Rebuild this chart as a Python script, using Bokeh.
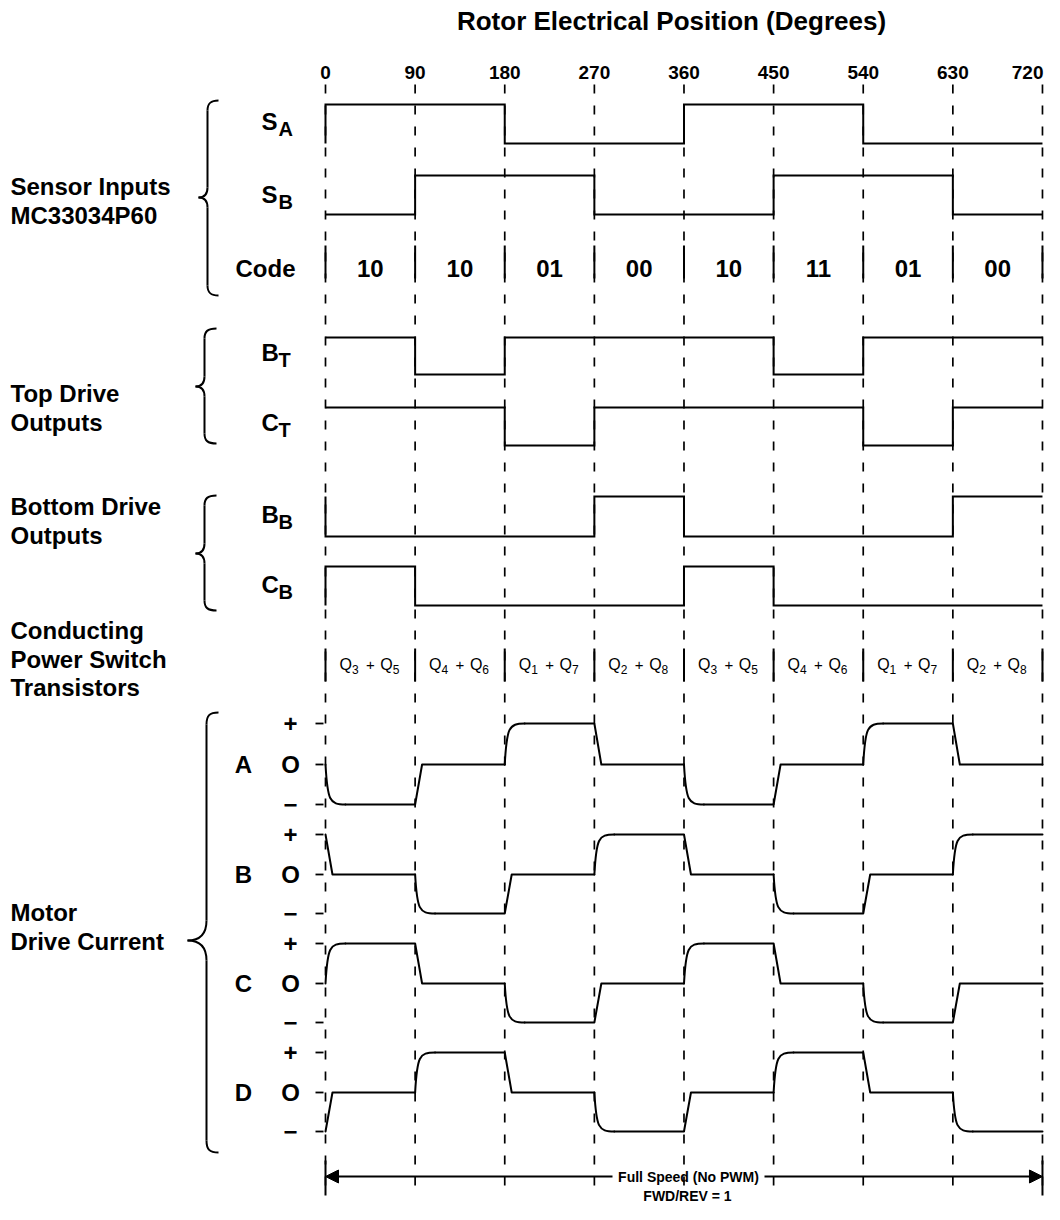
from bokeh.plotting import figure
from bokeh.models import Range1d, ColumnDataSource, Arrow, NormalHead
from bokeh.core.properties import value
from bokeh.embed import file_html
from bokeh.resources import INLINE

# ---------------- data ----------------
boundaries = [0, 90, 180, 270, 360, 450, 540, 630, 720]
tick_labels = ["0", "90", "180", "270", "360", "450", "540", "630", "720"]
codes = ["10", "10", "01", "00", "10", "11", "01", "00"]

s_a = [1, 1, 0, 0, 1, 1, 0, 0]
s_b = [0, 1, 1, 0, 0, 1, 1, 0]
b_t = [1, 0, 1, 1, 1, 0, 1, 1]
c_t = [1, 1, 0, 1, 1, 1, 0, 1]
b_b = [0, 0, 0, 1, 0, 0, 0, 1]
c_b = [1, 0, 0, 0, 1, 0, 0, 0]

q_first = ["3", "4", "1", "2", "3", "4", "1", "2"]
q_second = ["5", "6", "7", "8", "5", "6", "7", "8"]

motor_a = [-1, 0, 1, 0, -1, 0, 1, 0]
motor_b = [0, -1, 0, 1, 0, -1, 0, 1]
motor_c = [1, 0, -1, 0, 1, 0, -1, 0]
motor_d = [0, 1, 0, -1, 0, 1, 0, -1]

# ---------------- layout / style ----------------
FONT = value("Liberation Sans")
X0 = 325      # pixel of 0 degrees
K = 0.9958    # pixels per degree
W, H = 1044, 1204


def dx(px):
    return (px - X0) / K


p = figure(width=W, height=H,
           x_range=Range1d(dx(0), dx(W)), y_range=Range1d(H, 0),
           x_axis_type=None, y_axis_type=None,
           output_backend="svg", toolbar_location=None,
           min_border=0, outline_line_color=None)
p.grid.visible = False
p.background_fill_color = "white"
p.border_fill_color = "white"


def txt(x, y, s, size, align="left", baseline="middle", bold=True):
    p.text(x=[x], y=[y], text=[s], text_font=FONT,
           text_font_size=f"{size}px",
           text_font_style="bold" if bold else "normal",
           text_align=align, text_baseline=baseline, text_color="black")


mids = [(boundaries[i] + boundaries[i + 1]) / 2 for i in range(8)]

# title and degree labels
txt(dx(671), 20, "Rotor Electrical Position (Degrees)", 26, align="center")
p.text(x=boundaries[:-1], y=[72] * 8, text=tick_labels[:-1], text_font=FONT,
       text_font_size="19px", text_font_style="bold",
       text_align="center", text_baseline="middle")
txt(dx(1043), 72, tick_labels[-1], 19, align="right")

# dashed guide lines
p.segment(x0=boundaries, y0=[84] * 9, x1=boundaries, y1=[1196] * 9,
          line_color="black", line_width=1.7, line_dash="9 12")
# solid separators for code row and transistor row
p.segment(x0=boundaries, y0=[245] * 9, x1=boundaries, y1=[278] * 9,
          line_color="black", line_width=2)
p.segment(x0=boundaries, y0=[648] * 9, x1=boundaries, y1=[681] * 9,
          line_color="black", line_width=2)

# ---------------- digital signals ----------------
def digital(levels, hi, lo):
    ymap = {1: hi, 0: lo}
    xs, ys = [], []
    prev = levels[-1]
    for i, lv in enumerate(levels):
        b = boundaries[i]
        if lv != prev:
            xs += [b, b]
            ys += [ymap[prev], ymap[lv]]
        else:
            xs.append(b)
            ys.append(ymap[lv])
        prev = lv
    xs.append(boundaries[-1])
    ys.append(ymap[prev])
    p.line(xs, ys, line_color="black", line_width=2, line_join="miter")


rows = [
    (s_a, 104, 143, "S", "A", 121),
    (s_b, 175, 214, "S", "B", 194),
    (b_t, 337, 374, "B", "T", 352),
    (c_t, 407, 445, "C", "T", 422),
    (b_b, 496, 536, "B", "B", 514),
    (c_b, 566, 605, "C", "B", 584),
]
for lv, hi, lo, main, sub, ly in rows:
    digital(lv, hi, lo)
    txt(dx(261), ly, main, 24)
    txt(dx(278), ly + 7, sub, 20)

# code row
txt(dx(295), 268, "Code", 24, align="right")
p.text(x=mids, y=[268] * 8, text=codes, text_font=FONT,
       text_font_size="24px", text_font_style="bold",
       text_align="center", text_baseline="middle")

# transistor row
for c, a, b in zip(mids, q_first, q_second):
    txt(c - 31, 664, "Q", 16, bold=False)
    txt(c - 18.5, 669, a, 12, bold=False)
    txt(c, 664, "+", 15, align="center", bold=False)
    txt(c + 10, 664, "Q", 16, bold=False)
    txt(c + 22.5, 669, b, 12, bold=False)

# ---------------- motor currents ----------------
RAMP = 7
CURVE = 20


def analog(levels, plus_y, zero_y, minus_y):
    ymap = {1: plus_y, 0: zero_y, -1: minus_y}
    lines_x, lines_y = [], []
    bz = dict(x0=[], y0=[], x1=[], y1=[], cx0=[], cy0=[], cx1=[], cy1=[])
    px_, py_ = [], []
    prev = levels[-1]
    for i, lv in enumerate(levels):
        b = boundaries[i]
        yp, yn = ymap[prev], ymap[lv]
        if lv == prev:
            px_.append(b)
            py_.append(yn)
        elif lv == 0:
            px_ += [b, b + RAMP]
            py_ += [yp, yn]
        else:
            px_.append(b)
            py_.append(yp)
            lines_x.append(px_)
            lines_y.append(py_)
            bz["x0"].append(b)
            bz["y0"].append(yp)
            bz["x1"].append(b + CURVE)
            bz["y1"].append(yn)
            bz["cx0"].append(b + 2)
            bz["cy0"].append(yp + 0.9 * (yn - yp))
            bz["cx1"].append(b + 4)
            bz["cy1"].append(yn)
            px_, py_ = [b + CURVE], [yn]
        prev = lv
    px_.append(boundaries[-1])
    py_.append(ymap[prev])
    lines_x.append(px_)
    lines_y.append(py_)
    keep = [(a, b) for a, b in zip(lines_x, lines_y) if len(a) > 1]
    p.multi_line([k[0] for k in keep], [k[1] for k in keep],
                 line_color="black", line_width=2, line_join="round",
                 line_cap="round")
    p.bezier(source=ColumnDataSource(bz), x0="x0", y0="y0", x1="x1", y1="y1",
             cx0="cx0", cy0="cy0", cx1="cx1", cy1="cy1",
             line_color="black", line_width=2, line_cap="round")


motor_rows = [
    (motor_a, "A", 723, 764, 804),
    (motor_b, "B", 834, 874, 913),
    (motor_c, "C", 943, 983, 1022),
    (motor_d, "D", 1052, 1092, 1131),
]
for lv, name, yp, y0, ym in motor_rows:
    analog(lv, yp, y0, ym)
    txt(dx(243), y0, name, 24, align="center")
    txt(dx(290), yp, "+", 24, align="center")
    txt(dx(290), y0, "O", 24, align="center")
    txt(dx(290), ym, "\u2212", 24, align="center")
    p.segment(x0=[dx(315)] * 3, y0=[yp, y0, ym], x1=[dx(323)] * 3,
              y1=[yp, y0, ym], line_color="black", line_width=1.8)

# ---------------- group labels ----------------
for y, s in [(186, "Sensor Inputs"), (215, "MC33034P60"),
             (393, "Top Drive"), (422, "Outputs"),
             (506, "Bottom Drive"), (535, "Outputs"),
             (630, "Conducting"), (659, "Power Switch"), (687, "Transistors"),
             (912, "Motor"), (941, "Drive Current")]:
    txt(dx(10), y, s, 24)

# ---------------- braces ----------------
def brace(x_end, x_vert, x_tip, top, bot, tip, r_end, r_tip):
    segs = dict(x0=[], y0=[], x1=[], y1=[], cx0=[], cy0=[], cx1=[], cy1=[])

    def add(a, c0, c1, b):
        segs["x0"].append(dx(a[0])); segs["y0"].append(a[1])
        segs["cx0"].append(dx(c0[0])); segs["cy0"].append(c0[1])
        segs["cx1"].append(dx(c1[0])); segs["cy1"].append(c1[1])
        segs["x1"].append(dx(b[0])); segs["y1"].append(b[1])

    w = x_vert - x_tip
    add((x_end, top), (x_vert + 3, top), (x_vert, top + 3), (x_vert, top + r_end))
    add((x_vert, tip - r_tip), (x_vert, tip - r_tip * 0.3), (x_vert - w * 0.4, tip), (x_tip, tip))
    add((x_tip, tip), (x_vert - w * 0.4, tip), (x_vert, tip + r_tip * 0.3), (x_vert, tip + r_tip))
    add((x_vert, bot - r_end), (x_vert, bot - 3), (x_vert + 3, bot), (x_end, bot))
    p.bezier(source=ColumnDataSource(segs), x0="x0", y0="y0", x1="x1", y1="y1",
             cx0="cx0", cy0="cy0", cx1="cx1", cy1="cy1",
             line_color="black", line_width=2)
    p.segment(x0=[dx(x_vert)] * 2, y0=[top + r_end, tip + r_tip],
              x1=[dx(x_vert)] * 2, y1=[tip - r_tip, bot - r_end],
              line_color="black", line_width=2)


brace(218, 207, 198, 100, 295, 197, 10, 10)
brace(216, 204, 195, 328, 443, 386, 10, 10)
brace(216, 204, 195, 495, 610, 553, 10, 10)
brace(218, 206, 187, 712, 1152, 940, 12, 20)

# ---------------- bottom arrow ----------------
p.segment(x0=[boundaries[0], boundaries[-1]], y0=[1160, 1160],
          x1=[boundaries[0], boundaries[-1]], y1=[1195, 1195],
          line_color="black", line_width=2)
head = dict(size=13, fill_color="black", line_color="black")
p.add_layout(Arrow(end=NormalHead(**head), x_start=dx(612), y_start=1176,
                   x_end=boundaries[0], y_end=1176, line_width=2))
p.add_layout(Arrow(end=NormalHead(**head), x_start=dx(764), y_start=1176,
                   x_end=boundaries[-1], y_end=1176, line_width=2))
txt(dx(688), 1176, "Full Speed (No PWM)", 14, align="center")
txt(dx(687), 1203, "FWD/REV = 1", 14, align="center", baseline="bottom")

open("out.html", "w").write(file_html(p, INLINE))
